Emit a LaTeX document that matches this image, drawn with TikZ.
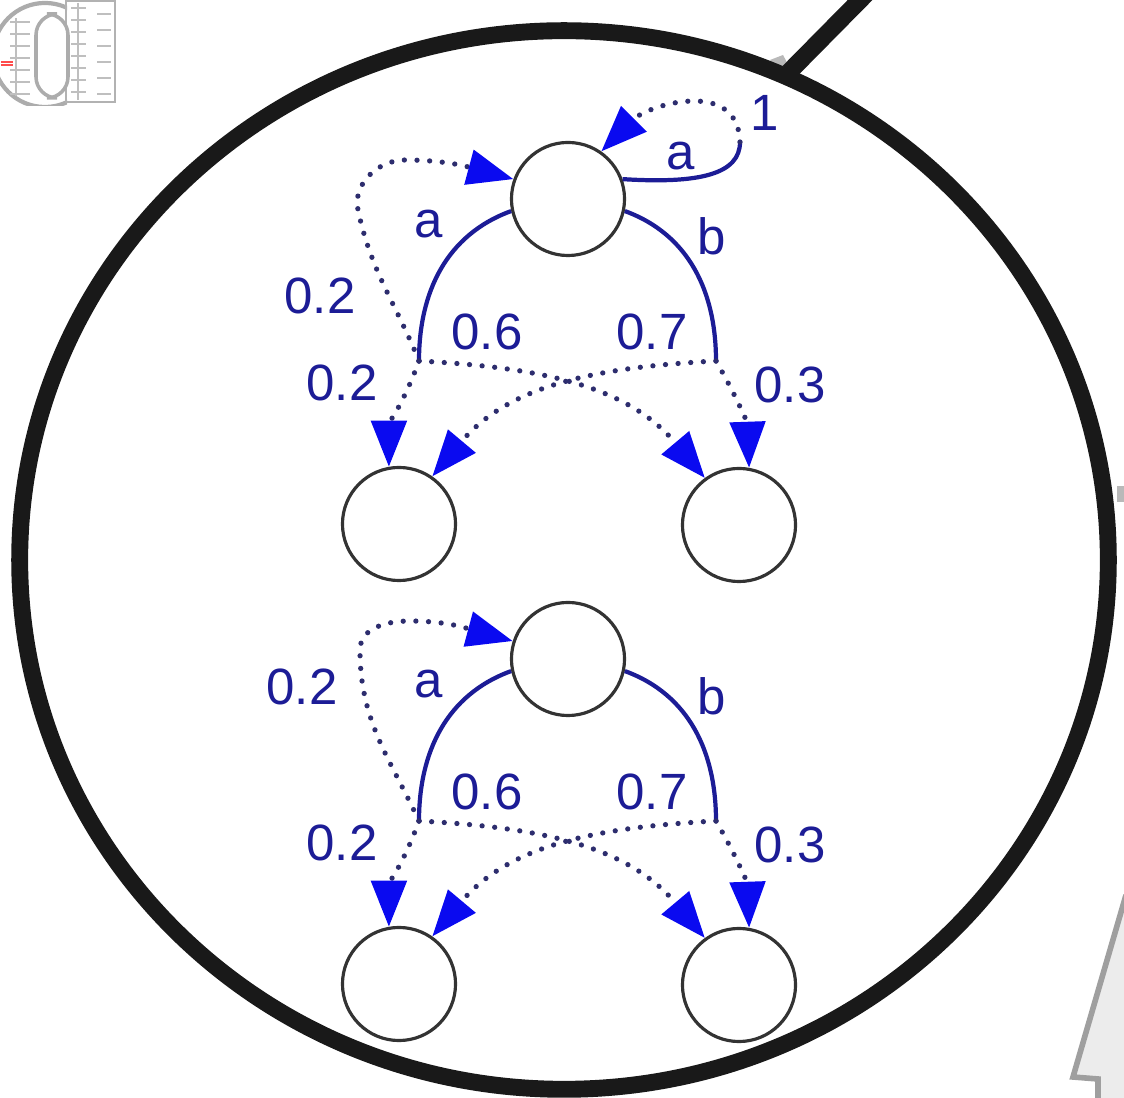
\documentclass[tikz,border=0pt]{standalone}
\usepackage{fontspec}
\setmainfont{Liberation Sans}
\usetikzlibrary{arrows.meta, calc}
\definecolor{lsNavy}{RGB}{28,28,150}
\definecolor{lsArrow}{RGB}{10,10,240}
\definecolor{lsDot}{RGB}{45,45,110}
\definecolor{lsRim}{RGB}{25,25,25}

\begin{document}
\begin{tikzpicture}[x=0.01cm,y=-0.01cm,
  state/.style={circle,draw=black!80,line width=0.9pt,fill=white,
                minimum size=11.3mm,inner sep=0pt},
  trans/.style={draw=lsNavy,line width=1.2pt},
  prob/.style={draw=lsDot,line width=1.5pt,line cap=round,
               dash pattern=on 0pt off 3.6pt,
               -{Triangle[length=4.6mm,width=3.5mm,color=lsArrow]}},
  lbl/.style={text=lsNavy,font=\fontsize{14.5}{17}\selectfont,inner sep=0pt},
  rim/.style={draw=lsRim,line width=4.8pt},
  thumb/.style={draw=gray!50,line width=0.4pt}]

\useasboundingbox (0,0) rectangle (1124,1098);
\clip (0,0) rectangle (1124,1098);

% Thumbnail (top left)
\begin{scope}
  \clip (0,0) rectangle (67,106);
  \draw[gray!65,line width=1.2pt] (45,55) circle [radius=5.2mm];
\end{scope}
\draw[gray!60,line width=0.8pt] (66,1) rectangle (115,102);
\foreach \yy in {8,20,...,92} \draw[thumb] (71,\yy) -- (86,\yy);
\foreach \yy in {14,30,...,94} \draw[thumb] (97,\yy) -- (111,\yy);
\draw[thumb] (78,3) -- (78,100);
\draw[gray!65,line width=1pt,fill=white,rounded corners=6pt] (36,14) rectangle (68,98);
\foreach \yy in {22,34,...,94} \draw[thumb] (10,\yy) -- (30,\yy);
\draw[thumb] (16,18) -- (16,96);
\draw[red!70,line width=0.5pt] (1,62) -- (13,62) (1,65) -- (13,65);

% Lens and handle
\fill[gray!55] (770,60) -- (783,55) -- (790,68) -- (777,70) -- cycle;
\fill[gray!55] (1117,486) rectangle (1124,502);
\draw[rim] (564,560) ellipse [x radius=5.44cm,y radius=5.29cm];
\draw[rim,line width=5pt] (789,72) -- (868,-8);

% Grey shape (bottom right)
\fill[gray!15] (1126,895) -- (1073,1077) -- (1098,1079) -- (1098,1100) -- (1126,1100) -- cycle;
\draw[gray!75,line width=1.6pt] (1126,895) -- (1073,1077) -- (1098,1079) -- (1098,1100);

% Two chains
\foreach \g/\dy in {1/0,2/460} {
  \node[state] (t\g) at (568,{199+\dy}) {};
  \node[state] (l\g) at (399,{524+\dy}) {};
  \node[state] (r\g) at (739,{525+\dy}) {};
  \coordinate (spl\g) at (419,{361+\dy});
  \coordinate (spr\g) at (716,{361+\dy});
  \draw[trans] (t\g.192) to[out=200,in=90] (spl\g);
  \draw[trans] (t\g.-12) to[out=-20,in=90] (spr\g);
  \draw[prob] (spl\g) to[out=-110,in=90] (l\g.100);
  \draw[prob] (spl\g) to[out=-3,in=130] (r\g.126);
  \draw[prob] (spr\g) to[out=183,in=50] (l\g.55);
  \draw[prob] (spr\g) to[out=-60,in=92] (r\g.80);
  \node[lbl] (la\g) at (429,{224+\dy}) {a};
  \node[lbl] (lb\g) at (712,{236+\dy}) {b};
  \node[lbl] (p6\g) at (487,{332+\dy}) {0.6};
  \node[lbl] (p7\g) at (652,{332+\dy}) {0.7};
  \node[lbl] (p2\g) at (342,{383+\dy}) {0.2};
  \node[lbl] (p3\g) at (790,{385+\dy}) {0.3};
}

% Upper chain: self loop and return
\coordinate (loop1) at (740,142);
\draw[trans] (t1.20) .. controls (700,184) and (740,174) .. (loop1);
\draw[prob] (loop1) to[out=92,in=45,looseness=1.2] (t1.55);
\node[lbl] (ls1) at (681,156) {a};
\node[lbl] (q1) at (765,113) {1};
\draw[prob] (spl1) to[out=112,in=-78] (358,210) to[out=102,in=180] (405,160)
  to[out=0,in=165] (t1.160);
\node[lbl] (q2) at (320,296) {0.2};

% Lower chain: return
\draw[prob] (spl2) to[out=115,in=-90] (360,650) to[out=90,in=180] (410,621)
  to[out=0,in=165] (t2.162);
\node[lbl] (q3) at (302,687) {0.2};
\end{tikzpicture}
\end{document}
